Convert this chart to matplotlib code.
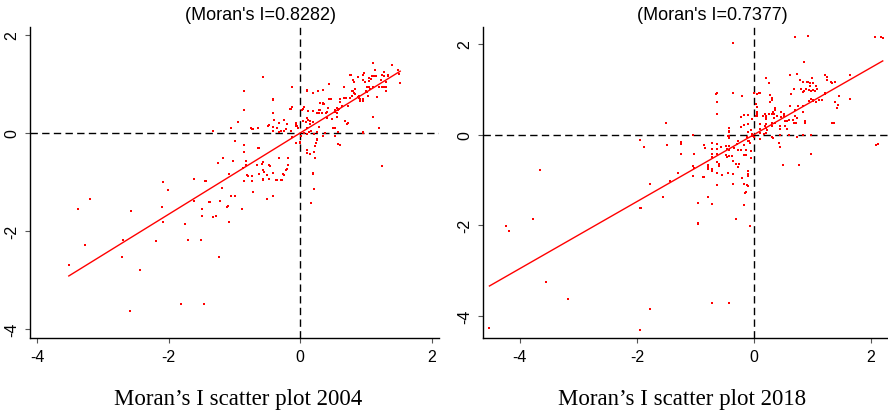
import numpy as np
import matplotlib
matplotlib.use("Agg")
import matplotlib.pyplot as plt

# ---------------- data ----------------
moran_i = [0.8282, 0.7377]
years = ["2004", "2018"]
ticks = [-4, -2, 0, 2]

pts_2004 = [
    (-3.52,-2.69), (-3.38,-1.56), (-3.20,-1.35), (-3.28,-2.29), (-2.70,-2.18), (-2.71,-2.53),
    (-2.58,-1.60), (-2.59,-3.63), (-2.43,-2.80), (-2.19,-2.21), (-2.10,-1.50), (-2.09,-1.81),
    (-1.81,-3.49), (-1.76,-1.85), (-1.71,-2.18), (-1.61,-1.38), (-1.51,-2.18), (-1.50,-1.55),
    (-1.50,-1.70), (-1.46,-3.49), (-1.39,-1.40), (-1.33,-1.71), (-1.28,-1.70), (-1.24,-2.52),
    (-1.22,-1.39), (-1.11,-1.50), (-1.09,-1.81), (-0.88,-1.55), (-0.51,-1.35), (0.16,-1.42),
    (-2.08,-0.99), (-2.01,-1.16), (-1.61,-0.93), (-1.45,-0.97), (-1.19,-1.12), (-1.06,-1.28),
    (-1.00,-1.29), (-1.09,-0.83), (-1.03,-0.58), (-1.25,-0.61), (-1.18,-0.52), (-0.99,-0.16),
    (-1.05,0.11), (-1.32,0.05), (-0.94,0.22), (-0.85,0.86), (-0.86,0.46), (-0.86,-0.24),
    (-0.86,-0.39), (-0.83,-0.58), (-0.83,-0.65), (-0.86,-0.97), (-0.81,-0.85), (-0.73,-0.88),
    (-0.75,0.11), (-0.73,0.08), (-0.64,0.11), (-0.65,-0.31), (-0.72,-1.20), (-0.62,-0.84),
    (-0.58,-0.63), (-0.57,1.15), (-0.56,-0.95), (-0.55,-0.79), (-0.48,0.16), (-0.48,-0.94),
    (-0.47,-0.65), (-0.42,0.69), (-0.41,0.40), (-0.41,0.13), (-0.41,0.04), (-0.42,-0.82),
    (-0.42,-1.28), (-0.37,-0.96), (-0.32,0.21), (-0.29,0.05), (-0.28,-0.96), (-0.26,-0.84),
    (-0.24,0.26), (-0.24,0.04), (-0.21,-0.75), (-0.19,-0.52), (-0.18,-0.65), (-0.15,0.49),
    (-0.12,0.52), (-0.14,0.03), (-0.12,-0.09), (-0.12,0.93), (-0.07,0.21), (-0.07,0.14),
    (-0.05,0.15), (-0.03,0.10), (-0.01,-0.18), (-0.01,-0.21), (0.01,-0.06), (0.03,0.46),
    (0.05,0.52), (0.06,0.00), (0.09,0.22), (0.10,0.10), (0.11,0.87), (0.11,0.30),
    (0.11,-0.02), (0.11,-0.34), (0.11,-0.40), (0.15,-0.43), (0.12,0.44), (0.14,0.01),
    (0.19,0.81), (0.19,0.44), (0.20,0.23), (0.21,-0.02), (0.20,-0.82), (0.21,-1.14),
    (0.23,-0.51), (0.24,-0.20), (0.25,-0.14), (0.27,0.85), (0.28,0.40), (0.29,0.13),
    (0.34,0.88), (0.34,0.62), (0.35,0.59), (0.37,-0.01), (0.40,0.42), (0.41,0.31),
    (0.43,1.00), (0.46,0.69), (0.49,0.29), (0.50,0.10), (0.52,0.10), (0.58,0.02),
    (0.58,-0.22), (0.61,-0.24), (0.53,0.42), (0.56,0.51), (0.56,0.40), (0.59,0.49),
    (0.60,0.69), (0.67,0.93), (0.69,0.71), (0.72,0.20), (0.75,1.18), (0.78,0.86),
    (0.80,1.08), (0.79,0.76), (0.81,0.82), (0.83,0.90), (0.84,0.90),
    (-1.08,-0.84), (-0.87,-0.71), (-0.56,-0.76), (-0.51,-0.86), (-0.25,-0.86), (-1.44,-0.98),
    (-0.80,-0.87), (-0.74,-0.97), (-0.57,-0.94), (-0.36,-0.96), (-0.29,-0.96), (-1.38,-1.40),
    (-1.10,-1.48), (-0.42,0.67), (-0.42,0.41), (-0.14,0.49), (0.04,0.48), (0.20,0.45),
    (0.30,0.46), (-0.72,0.09), (-0.49,0.14), (-0.40,0.27), (-0.35,0.10), (-0.30,0.05),
    (-0.20,0.18), (-0.22,0.08), (-0.06,0.18), (0.04,0.25), (0.12,0.27), (0.17,0.05),
    (-0.32,0.02), (-0.63,-0.31), (-0.66,-0.65), (-0.57,-0.60), (-0.46,-0.67), (-0.32,-0.52),
    (-0.20,-0.73), (-0.06,-0.21), (0.00,-0.19), (0.10,0.86), (0.20,0.81),
    (1.39,1.39), (1.48,1.29), (1.52,1.01), (0.77,1.19), (0.88,1.15), (0.96,1.19),
    (1.05,1.12), (1.14,1.29), (1.24,1.18), (1.33,1.19), (1.11,1.42), (0.81,1.03),
    (0.80,0.85), (0.84,0.80), (0.88,0.73), (0.91,0.69), (0.95,0.65), (1.01,0.83),
    (1.06,0.90), (1.11,0.93), (1.17,0.73), (1.28,0.93), (1.31,0.86), (0.75,0.71),
    (0.66,0.71), (0.60,0.63), (0.44,0.69), (0.30,0.61), (0.36,0.59), (0.42,0.51),
    (0.53,0.47), (0.57,0.46), (0.64,0.54), (0.72,0.54), (0.28,0.47), (0.26,0.40),
    (0.33,0.40), (0.39,0.40), (0.48,0.29), (0.56,0.32), (0.68,0.25), (0.71,0.18),
    (0.53,0.10), (1.10,0.32), (1.20,0.10), (0.96,0.00), (0.15,0.24), (0.15,0.18),
    (0.25,0.01), (0.38,0.00), (0.35,-0.07), (0.53,-0.07), (0.25,-0.12), (0.23,-0.27),
    (0.21,-0.38), (1.25,-0.67), (0.20,-0.84),
    (0.89,0.71), (0.91,0.66), (0.95,0.69), (0.95,1.08), (0.96,1.18), (0.97,1.22),
    (0.98,1.03), (1.00,0.86), (1.01,0.93), (1.03,0.76), (1.05,0.94), (1.05,1.06),
    (1.07,1.11), (1.09,1.16), (1.12,1.17), (1.15,1.16), (1.19,0.93), (1.23,1.08),
    (1.25,0.94), (1.27,1.16), (1.27,1.24), (1.31,1.04), (1.30,0.94), (1.34,1.16),
    (1.50,1.20), (0.90,0.76), (0.96,0.01),
]

pts_2018 = [
    (-4.23,-2.02), (-4.19,-2.13), (-3.78,-1.85), (-4.52,-4.25), (-3.55,-3.24), (-3.18,-3.61),
    (-1.94,-1.61), (-1.78,-3.85), (-1.95,-4.30), (-0.96,-1.50), (-0.96,-1.95), (-0.71,-1.52),
    (-0.71,-3.70), (-0.42,-3.70), (-0.30,-1.85), (-0.17,-1.54), (-0.06,-2.02), (-3.65,-0.77),
    (-0.36,2.02), (0.70,2.14), (0.92,2.17), (2.07,2.15), (2.17,2.16), (2.20,2.13),
    (2.09,-0.23), (-1.50,0.26),
    (-1.95,-0.11), (-1.88,-0.28), (-1.48,-0.23), (-1.24,-0.16), (-1.24,-0.20), (-1.24,-0.42),
    (-1.04,0.00), (-1.03,-0.42), (-0.85,-0.23), (-0.84,-0.29), (-0.71,-0.18), (-0.71,-0.31),
    (-0.71,-0.42), (-0.71,-0.49), (-0.64,-0.20), (-0.64,-0.31), (-0.56,-0.28), (-0.63,-0.42),
    (-0.44,-0.04), (-0.42,-0.02), (-0.42,-0.07), (-0.47,-0.26), (-0.46,-0.31), (-0.42,-0.26),
    (-0.42,-0.33), (-0.48,-0.46), (-0.46,-0.50), (-0.42,-0.48), (-0.37,-0.48), (-0.34,-0.29),
    (-0.29,-0.21), (-0.28,-0.14), (-0.27,-0.35), (-0.22,-0.35), (-0.12,-0.05), (-0.10,-0.15),
    (-0.08,-0.15), (-0.06,-0.18), (-0.17,-0.23), (-0.04,0.02), (-0.03,-0.03), (0.00,-0.05),
    (-0.14,-0.33), (-0.05,-0.37), (-0.05,-0.52), (-0.17,-0.46), (-0.14,-0.46), (-0.36,-0.59),
    (-0.31,-0.65), (-0.78,-0.68), (-0.78,-0.71), (-0.78,-0.76), (-0.71,-0.75), (-0.71,-0.80),
    (-0.63,-0.61), (-0.60,-0.64), (-0.60,-0.70), (-0.63,-0.84), (-1.04,-0.70), (-1.03,-0.73),
    (-1.30,-0.84), (-1.05,-0.92), (-0.87,-0.93), (-0.85,-0.93), (-0.55,-0.88), (-0.44,-0.84),
    (-0.36,-0.86), (-0.27,-0.72), (-0.26,-0.65), (-0.21,-0.95), (-0.11,-0.81), (-0.11,-0.87),
    (-0.11,-0.92), (-0.17,-1.08), (-0.14,-1.27), (-0.16,-1.29), (-0.12,-1.10), (-0.10,-1.14),
    (-1.77,-1.08), (-1.44,-1.03), (-0.63,-1.10), (-0.36,-1.08), (-1.56,-1.37), (-1.93,-1.62),
    (-0.95,-1.50), (-0.78,-1.37), (-0.71,-1.52), (-0.95,-1.96),
    (-0.65,0.90), (-0.63,0.92), (-0.35,0.92), (-0.64,0.72), (-0.64,0.46), (0.00,0.92),
    (-0.42,0.09), (-0.42,0.15), (-0.42,0.05), (-0.22,0.39), (-0.17,0.44), (-0.10,0.43),
    (-0.20,0.86), (-0.17,0.22), (-0.10,0.23), (-0.23,0.17), (-0.05,0.10), (-0.10,0.05),
    (-0.03,0.34),
    (0.05,0.89), (0.11,0.91), (0.03,0.67), (0.06,0.60), (0.05,0.45), (0.03,0.41),
    (0.21,1.24), (0.26,1.13), (0.31,0.80), (0.31,0.77), (0.36,0.59), (0.36,0.55),
    (0.19,0.45), (0.21,0.41), (0.25,0.45), (0.30,0.45), (0.35,0.45), (0.40,0.41),
    (0.19,0.20), (0.20,0.15), (0.30,0.25), (0.36,0.25), (0.51,0.45), (0.51,0.40),
    (0.53,0.30), (0.57,0.30), (0.62,1.32), (0.74,1.34), (0.85,1.59), (0.79,1.20),
    (0.83,1.15), (0.90,1.15), (0.93,1.15), (0.96,1.08), (0.63,0.90), (0.68,1.00),
    (0.80,1.00), (0.84,0.93), (0.86,0.96), (0.89,1.00), (0.94,0.98), (0.97,0.96),
    (1.01,0.98), (1.05,0.96), (1.08,1.00), (0.94,0.75), (0.97,0.78), (1.01,0.76),
    (1.11,0.76), (1.17,0.76), (1.21,0.90), (1.22,0.92), (1.22,1.32), (1.24,1.26),
    (1.25,1.20), (1.31,1.15), (1.38,1.15), (1.38,0.72), (1.43,0.66), (1.42,0.59),
    (1.45,0.86), (1.64,1.32), (1.64,0.79), (1.34,0.26), (0.97,-0.42), (0.77,-0.68),
    (0.50,-0.68), (0.44,-0.28), (0.31,-0.05), (0.60,0.00), (0.84,0.00), (0.97,0.00),
    (0.68,0.26), (0.72,0.26), (0.70,0.40), (0.74,0.37), (0.87,0.25), (0.53,0.18),
    (0.56,0.12), (0.44,0.12), (0.99,1.25), (0.95,1.14), (1.00,1.14), (1.06,1.08),
    (1.33,1.14), (0.62,0.63), (0.75,0.63), (0.84,0.63), (0.70,0.55), (0.84,0.50),
    (0.46,0.50), (0.33,0.50), (0.05,0.50), (0.05,0.40), (0.15,0.40), (0.20,0.38),
    (0.20,0.35), (0.35,0.36), (0.46,0.38), (0.60,0.33), (0.66,0.33), (0.87,0.30),
    (1.36,0.25), (0.10,0.23), (0.20,0.24), (0.30,0.20), (0.45,0.20), (0.53,0.20),
    (0.10,0.12), (0.22,0.10), (0.10,0.03), (0.17,0.02), (0.20,0.03), (0.44,0.00),
    (0.10,-0.10), (0.33,-0.08), (0.43,-0.18), (0.74,-0.05), (2.12,-0.21), (0.28,0.72),
    (0.27,0.87), (0.08,0.92), (1.46,0.86), (1.06,0.72), (1.00,0.73),
]

x2004 = [p[0] for p in pts_2004]
y2004 = [p[1] for p in pts_2004]
x2018 = [p[0] for p in pts_2018]
y2018 = [p[1] for p in pts_2018]

# ---------------- figure ----------------
W, H = 888, 414
fig = plt.figure(figsize=(W / 100, H / 100), dpi=100)

def px_rect(l, t, r, b):
    return [l / W, 1 - b / H, (r - l) / W, (b - t) / H]

panels = [
    dict(rect=px_rect(30, 28, 439, 339), xlim=(-4.11, 2.11), ylim=(-4.18, 2.16),
         x=x2004, y=y2004, title_x=260, cap_x=238),
    dict(rect=px_rect(483, 28, 888, 339), xlim=(-4.63, 2.29), ylim=(-4.48, 2.37),
         x=x2018, y=y2018, title_x=712, cap_x=682),
]

sans = ["Liberation Sans", "DejaVu Sans"]
serif = ["Liberation Serif", "DejaVu Serif"]

for i, p in enumerate(panels):
    ax = fig.add_axes(p["rect"])
    ax.set_xlim(*p["xlim"])
    ax.set_ylim(*p["ylim"])
    for s in ["top", "right"]:
        ax.spines[s].set_visible(False)
    for s in ["left", "bottom"]:
        ax.spines[s].set_linewidth(1.0)
        ax.spines[s].set_color("black")
    ax.set_xticks(ticks)
    ax.set_yticks(ticks)
    ax.set_xticklabels([str(t) for t in ticks], family=sans, fontsize=11.5)
    ax.set_yticklabels([str(t) for t in ticks], family=sans, fontsize=11.5,
                       rotation=90, va="center")
    ax.tick_params(direction="out", length=3.8, width=0.8, pad=4, color="#555555")

    ax.axhline(0, color="black", lw=1.0, dashes=(5.3, 3.1), zorder=1)
    ax.axvline(0, color="black", lw=1.0, dashes=(5.3, 3.1), zorder=1)

    ax.scatter(p["x"], p["y"], s=3.5, marker="s", color="#ff0000", linewidths=0, zorder=3)

    xs = np.array([min(p["x"]), max(p["x"])])
    ax.plot(xs, moran_i[i] * xs, color="#ff0000", lw=1.0, zorder=2)

    fig.text(p["title_x"] / W, 1 - 16 / H, f"(Moran's I={moran_i[i]:.4f})",
             ha="center", va="center", family=sans, fontsize=13)
    fig.text(p["cap_x"] / W, 1 - 400 / H, f"Moran\u2019s I scatter plot {years[i]}",
             ha="center", va="center", family=serif, fontsize=16.5)

fig.savefig("out.png", dpi=100)
